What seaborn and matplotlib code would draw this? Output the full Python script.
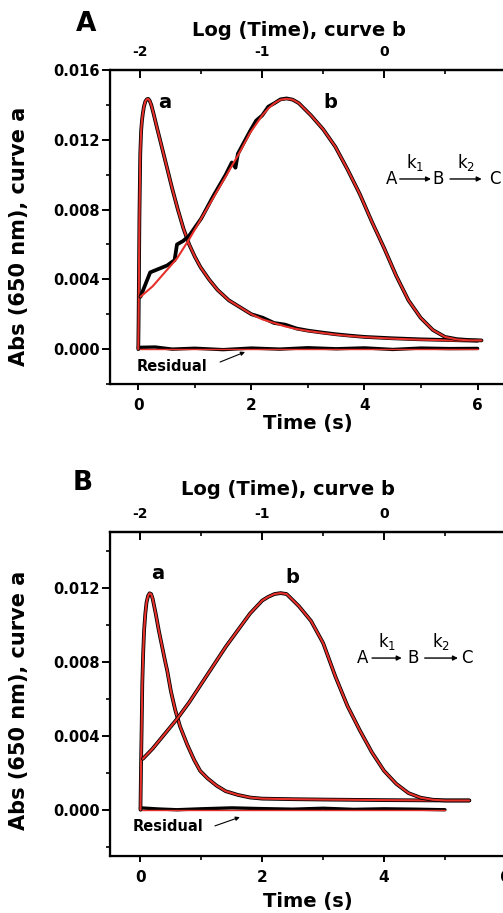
import numpy as np
import pandas as pd
import seaborn as sns
import matplotlib.pyplot as plt
from matplotlib.ticker import MultipleLocator

# ---- panel A ----
# curve a: absorbance vs time (s), bottom axis
a_time_A = [0, 0.005, 0.01, 0.02, 0.035, 0.05, 0.065, 0.08, 0.10, 0.125, 0.15, 0.175, 0.20,
            0.23, 0.27, 0.33, 0.40, 0.50, 0.60, 0.70, 0.80, 0.90, 1.0, 1.1, 1.25, 1.4, 1.6,
            1.8, 2.0, 2.2, 2.4, 2.6, 2.8, 3.0, 3.25, 3.5, 3.75, 4.0, 4.5, 5.0, 5.5, 6.0]
a_fit_A = [0, 0.0015, 0.0035, 0.0075, 0.0112, 0.0125, 0.0131, 0.0135, 0.0139, 0.0142, 0.01432,
           0.01435, 0.01425, 0.0140, 0.0135, 0.0127, 0.0118, 0.0105, 0.0092, 0.0080, 0.0069,
           0.0060, 0.0053, 0.0047, 0.0040, 0.0034, 0.0028, 0.0024, 0.0020, 0.0017, 0.0015,
           0.0013, 0.00115, 0.00104, 0.00093, 0.00083, 0.00075, 0.00069, 0.0006, 0.00054,
           0.0005, 0.00046]
a_obs_A = [0, 0.0015, 0.0035, 0.0075, 0.0112, 0.0125, 0.0131, 0.0135, 0.0139, 0.0142, 0.01432,
           0.01435, 0.01425, 0.0140, 0.0135, 0.0127, 0.0118, 0.0105, 0.0092, 0.0080, 0.0069,
           0.0060, 0.0053, 0.0047, 0.0040, 0.0034, 0.0028, 0.0024, 0.0020, 0.0018, 0.0015,
           0.0014, 0.00118, 0.00106, 0.00095, 0.00085, 0.00077, 0.00070, 0.00062, 0.00056,
           0.00052, 0.00048]

# curve b: absorbance vs log(time), top axis
b_logt_A = [-2.0, -1.95, -1.9, -1.8, -1.7, -1.6, -1.5, -1.4, -1.3, -1.2, -1.1, -1.0, -0.95,
            -0.9, -0.85, -0.8, -0.75, -0.7, -0.6, -0.5, -0.4, -0.3, -0.2, -0.1, 0.0, 0.1, 0.2,
            0.3, 0.4, 0.5, 0.6, 0.7, 0.8]
b_fit_A = [0.0030, 0.0033, 0.0036, 0.0044, 0.0052, 0.0063, 0.0075, 0.0087, 0.0099, 0.0111,
           0.0124, 0.0134, 0.0138, 0.0141, 0.01430, 0.01435, 0.0143, 0.0141, 0.0134, 0.0126,
           0.0116, 0.0103, 0.0089, 0.0073, 0.0058, 0.0042, 0.0028, 0.0018, 0.0011, 0.0007,
           0.00055, 0.0005, 0.0005]
b_obs_logt_A = [-2.0, -1.96, -1.92, -1.85, -1.78, -1.72, -1.70, -1.65, -1.6, -1.5, -1.4, -1.3,
                -1.25, -1.22, -1.2, -1.1, -1.05, -1.0, -0.95, -0.9, -0.85, -0.8, -0.75, -0.7,
                -0.6, -0.5, -0.4, -0.3, -0.2, -0.1, 0.0, 0.1, 0.2, 0.3, 0.4, 0.5, 0.6, 0.7, 0.8]
b_obs_A = [0.0030, 0.0037, 0.0044, 0.0046, 0.0048, 0.0051, 0.0060, 0.0062, 0.0065, 0.0075,
           0.0088, 0.0100, 0.0107, 0.0104, 0.0112, 0.0125, 0.0131, 0.0134, 0.0139, 0.0141,
           0.01432, 0.01437, 0.0143, 0.0141, 0.0134, 0.0126, 0.0116, 0.0103, 0.0089, 0.0073,
           0.0058, 0.0042, 0.0028, 0.0018, 0.0011, 0.0007, 0.00057, 0.00052, 0.0005]

# residual
res_time_A = [0, 0.3, 0.6, 1.0, 1.5, 2.0, 2.5, 3.0, 3.5, 4.0, 4.5, 5.0, 5.5, 6.0]
res_obs_A = [0.0001, 0.00012, 0.0, 0.00005, -0.00003, 0.00006, 0.0, 0.00008, 0.00002, 0.00007,
             -0.00002, 0.00006, 0.00003, 0.00004]

# ---- panel B ----
a_time_B = [0, 0.01, 0.02, 0.03, 0.045, 0.06, 0.08, 0.10, 0.125, 0.15, 0.175, 0.20, 0.25,
            0.30, 0.35, 0.40, 0.44, 0.50, 0.57, 0.65, 0.77, 0.88, 0.98, 1.1, 1.25, 1.4, 1.6,
            1.8, 2.0, 2.5, 3.0, 4.0, 5.0, 5.4]
a_fit_B = [0, 0.0025, 0.0045, 0.0068, 0.0085, 0.0097, 0.0106, 0.0112, 0.01155, 0.01169,
           0.01165, 0.0114, 0.0106, 0.0097, 0.0089, 0.0081, 0.0075, 0.0064, 0.0054, 0.0045,
           0.0035, 0.0027, 0.0021, 0.0017, 0.0013, 0.0010, 0.0008, 0.00066, 0.0006, 0.00057,
           0.00055, 0.00052, 0.0005, 0.0005]

b_logt_B = [-1.98, -1.9, -1.8, -1.7, -1.6, -1.5, -1.4, -1.3, -1.2, -1.1, -1.0, -0.95, -0.9,
            -0.85, -0.8, -0.7, -0.6, -0.5, -0.4, -0.3, -0.2, -0.1, 0.0, 0.1, 0.2, 0.3, 0.4,
            0.5, 0.6, 0.7]
b_fit_B = [0.00275, 0.0033, 0.0041, 0.0049, 0.0058, 0.0068, 0.0078, 0.0088, 0.0097, 0.0106,
           0.0113, 0.0115, 0.01165, 0.0117, 0.01165, 0.0110, 0.0102, 0.0090, 0.0072, 0.0056,
           0.0043, 0.0031, 0.0021, 0.0014, 0.0009, 0.00065, 0.00054, 0.0005, 0.0005, 0.0005]

res_time_B = [0, 0.3, 0.6, 1.0, 1.5, 2.0, 2.5, 3.0, 3.5, 4.0, 4.5, 5.0]
res_obs_B = [0.0001, 0.00004, 0.0, 0.00005, 0.0001, 0.00006, 0.00003, 0.00008, 0.00002,
             0.00005, 0.00003, 0.0]

sns.set_style('ticks')
plt.rcParams['font.family'] = ['DejaVu Sans']
plt.rcParams['font.weight'] = 'bold'
plt.rcParams['mathtext.default'] = 'regular'
plt.rcParams['axes.unicode_minus'] = False
for key in ['text.color', 'axes.labelcolor', 'xtick.color', 'ytick.color', 'axes.edgecolor']:
    plt.rcParams[key] = 'black'

RED = '#e8302a'


def draw_pair(ax, x_obs, y_obs, x_fit, y_fit, lw_black=2.7, lw_red=1.5):
    sns.lineplot(x=x_obs, y=y_obs, ax=ax, color='black', lw=lw_black, sort=False)
    sns.lineplot(x=x_fit, y=y_fit, ax=ax, color=RED, lw=lw_red, sort=False)


def setup_axes(rect, xmax, ylim, yticks):
    ax = fig.add_axes(rect)
    ax.set_xlim(-0.5, xmax)
    ax.set_ylim(*ylim)
    ax.set_yticks(yticks)
    ax.set_yticklabels(['%.3f' % v for v in yticks])
    ax.yaxis.set_minor_locator(MultipleLocator(0.002))
    ax.set_xticks([0, 2, 4, 6])
    ax.xaxis.set_minor_locator(MultipleLocator(1))
    ax.tick_params(axis='y', which='major', direction='out', length=6, width=1.4, pad=1.5, labelsize=10.5)
    ax.tick_params(axis='y', which='minor', direction='out', length=3, width=1.2)
    ax.tick_params(axis='x', which='major', direction='out', length=4, width=1.4, pad=6, labelsize=11)
    ax.tick_params(axis='x', which='minor', direction='out', length=3, width=1.2)
    for s in ['left', 'bottom', 'top']:
        ax.spines[s].set_linewidth(1.6)
    ax.spines['right'].set_visible(False)
    ax.set_xlabel('Time (s)', fontsize=14, fontweight='bold')
    ax.set_ylabel('Abs (650 nm), curve a', fontsize=15, fontweight='bold')

    top = ax.twiny()
    top.set_xlim(-2.25, 1.0)
    top.set_xticks([-2, -1, 0, 1])
    top.xaxis.set_minor_locator(MultipleLocator(0.5))
    top.tick_params(axis='x', which='major', direction='in', length=6, width=1.4, pad=8, labelsize=10)
    top.tick_params(axis='x', which='minor', direction='in', length=3, width=1.2)
    top.spines['top'].set_linewidth(1.6)
    top.spines['right'].set_visible(False)
    top.set_xlabel('Log (Time), curve b', fontsize=14, fontweight='bold')
    return ax, top


def scheme(ax, xs, y):
    xa, x1a, x1b, xb, x2a, x2b, xc = xs
    kw = dict(transform=ax.transAxes, fontsize=12, fontweight='normal', ha='center', va='center')
    ax.text(xa, y, 'A', **kw)
    ax.text(xb, y, 'B', **kw)
    ax.text(xc, y, 'C', **kw)
    for s, e, lab in [(x1a, x1b, r'k$_1$'), (x2a, x2b, r'k$_2$')]:
        ax.annotate('', xy=(e, y), xytext=(s, y), xycoords='axes fraction',
                    arrowprops=dict(arrowstyle='-|>', lw=1, color='black', mutation_scale=7,
                                    shrinkA=0, shrinkB=0))
        ax.text((s + e) / 2, y + 0.052, lab, transform=ax.transAxes, fontsize=12,
                fontweight='normal', ha='center', va='center')


def residual_label(ax, x, y, arrow_from, arrow_to):
    ax.text(x, y, 'Residual', transform=ax.transAxes, fontsize=10.5, fontweight='bold',
            ha='left', va='center')
    ax.annotate('', xy=arrow_to, xytext=arrow_from, xycoords='axes fraction',
                arrowprops=dict(arrowstyle='-|>', lw=0.8, color='black', mutation_scale=6,
                                shrinkA=0, shrinkB=0))


fig = plt.figure(figsize=(5.03, 9.13), dpi=100)

# ---- panel A ----
axA, topA = setup_axes([0.2187, 0.5794, 0.787, 0.3439], 6.5, (-0.002, 0.016),
                       [0.0, 0.004, 0.008, 0.012, 0.016])
draw_pair(axA, res_time_A, res_obs_A, [res_time_A[0], res_time_A[-1]], [0, 0], 2.4, 1.0)
draw_pair(axA, a_time_A, a_obs_A, a_time_A, a_fit_A)
topA.set_ylim(axA.get_ylim())
draw_pair(topA, b_obs_logt_A, b_obs_A, b_logt_A, b_fit_A)
topA.set_ylabel('')
axA.text(0.139, 0.898, 'a', transform=axA.transAxes, fontsize=14, fontweight='bold', ha='center', va='center')
axA.text(0.556, 0.895, 'b', transform=axA.transAxes, fontsize=14, fontweight='bold', ha='center', va='center')
scheme(axA, [0.712, 0.732, 0.811, 0.828, 0.859, 0.939, 0.972], 0.653)
residual_label(axA, 0.066, 0.057, (0.278, 0.070), (0.341, 0.102))
axA.xaxis.set_label_coords(0.5, -0.095)
axA.yaxis.set_label_coords(-0.205, 0.47)
topA.xaxis.set_label_coords(0.477, 1.108)
fig.text(0.171, 0.974, 'A', fontsize=19, fontweight='bold', ha='center', va='center')

# ---- panel B ----
axB, topB = setup_axes([0.2187, 0.0624, 0.787, 0.3549], 6.0, (-0.0025, 0.015),
                       [0.0, 0.004, 0.008, 0.012])
draw_pair(axB, res_time_B, res_obs_B, [res_time_B[0], res_time_B[-1]], [0, 0], 2.4, 1.0)
draw_pair(axB, a_time_B, a_fit_B, a_time_B, a_fit_B)
topB.set_ylim(axB.get_ylim())
draw_pair(topB, b_logt_B, b_fit_B, b_logt_B, b_fit_B)
topB.set_ylabel('')
axB.text(0.121, 0.873, 'a', transform=axB.transAxes, fontsize=14, fontweight='bold', ha='center', va='center')
axB.text(0.460, 0.861, 'b', transform=axB.transAxes, fontsize=14, fontweight='bold', ha='center', va='center')
scheme(axB, [0.639, 0.662, 0.737, 0.765, 0.795, 0.879, 0.902], 0.611)
residual_label(axB, 0.058, 0.090, (0.265, 0.093), (0.328, 0.120))
axB.xaxis.set_label_coords(0.5, -0.11)
axB.yaxis.set_label_coords(-0.205, 0.48)
topB.xaxis.set_label_coords(0.449, 1.114)
fig.text(0.165, 0.471, 'B', fontsize=19, fontweight='bold', ha='center', va='center')

fig.savefig('out.png', dpi=100)
